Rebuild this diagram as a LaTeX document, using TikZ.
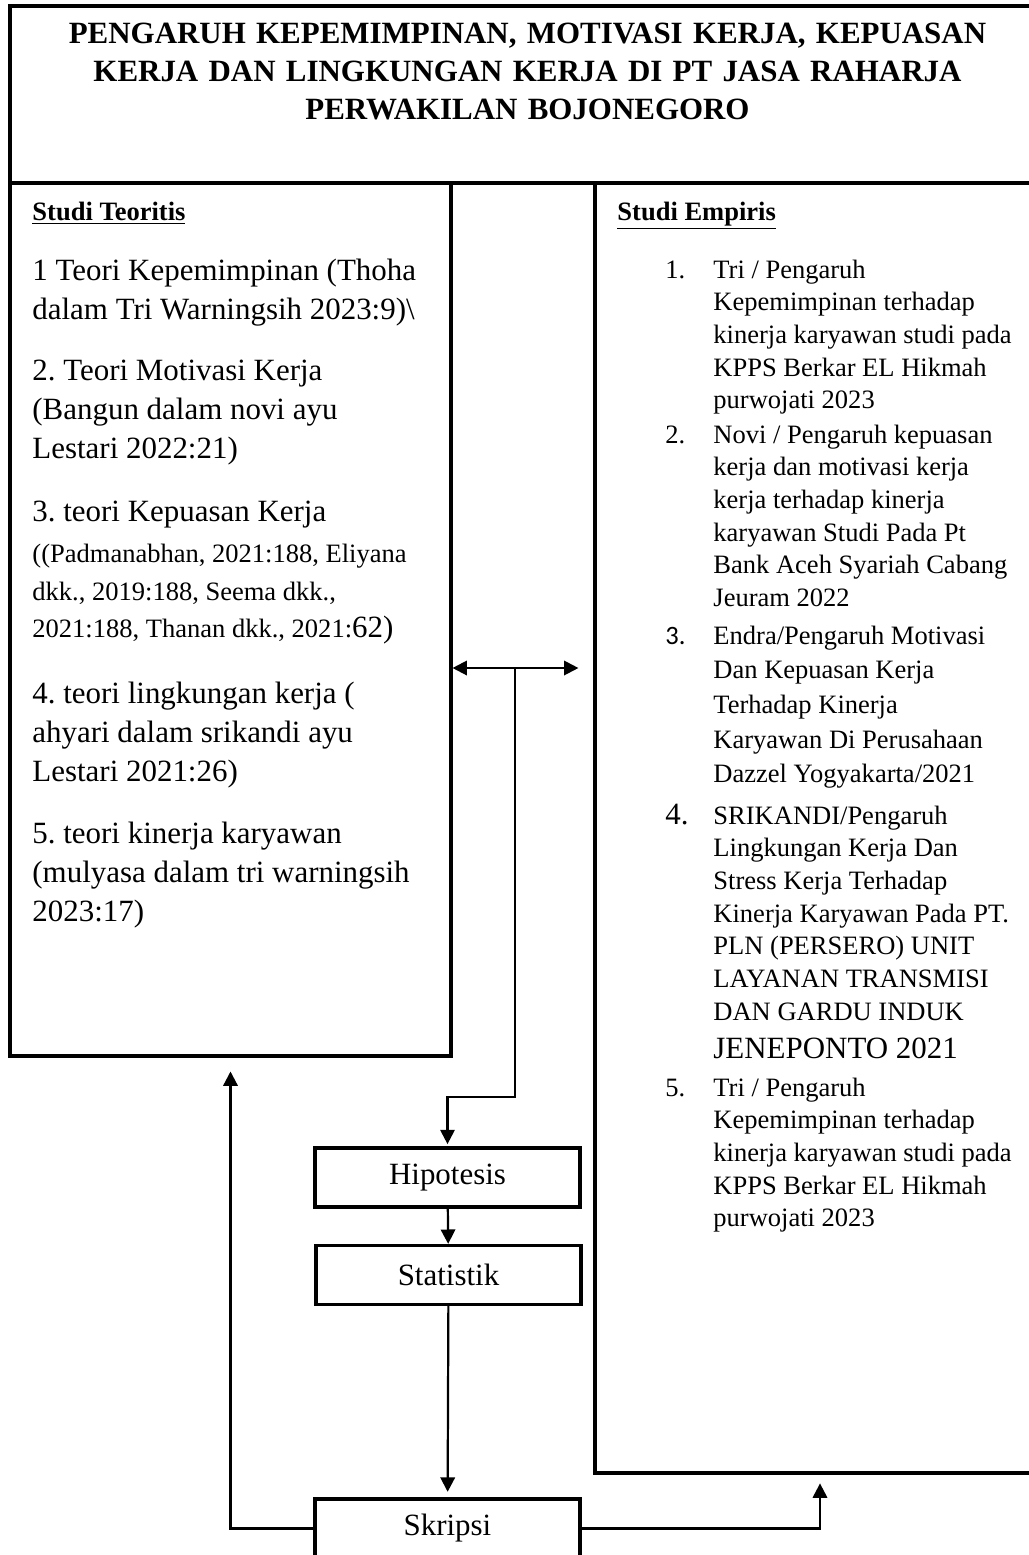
\documentclass[tikz,border=0pt]{standalone}
\usepackage{fontspec}
\setmainfont{Liberation Serif}
\newfontfamily\numfont{Carlito}
\usetikzlibrary{arrows.meta,positioning,fit}
\frenchspacing
\tikzset{
  panel/.style={draw=black,line width=1.4pt,inner sep=0pt},
  stage/.style={draw=black,line width=1.5pt,minimum width=119.9pt,minimum height=26.7pt,
                inner sep=0pt,font=\fontsize{14}{17}\selectfont},
  title/.style={text width=460pt,align=center,inner sep=0pt,anchor=base,
                font=\bfseries\fontsize{14}{17.4}\selectfont},
  heading/.style={inner sep=0pt,anchor=base west,font=\bfseries\fontsize{12}{14}\selectfont},
  theory/.style={text width=190pt,align=flush left,inner sep=0pt,anchor=base west,
                 font=\fontsize{14}{17.65}\selectfont},
  study/.style={text width=150pt,align=flush left,inner sep=0pt,anchor=base west,
                font=\fontsize{12}{14.8}\selectfont},
  num/.style={inner sep=0pt,anchor=base west,font=\fontsize{12}{14.8}\selectfont},
  arrow/.style={->,line width=1pt,draw=black}
}

\begin{document}
\begin{tikzpicture}[x=0.4525pt,y=-0.4525pt,>={Triangle[length=6.5pt,width=6.5pt]}]
\useasboundingbox (0,0) rectangle (1029,1555);
\clip (0,0) rectangle (1029,1555);
% kotak utama
\node[panel,fit={(10,6) (1045,183)}] (titlebox) {};
\node[panel,fit={(10,183) (451,1056)}] (teori) {};
\node[panel,fit={(595,183) (1045,1473)}] (empiris) {};
\node[title] (judul) at (527.5,43) {PENGARUH KEPEMIMPINAN, MOTIVASI KERJA, KEPUASAN\\
  KERJA DAN LINGKUNGAN KERJA DI PT JASA RAHARJA\\ PERWAKILAN BOJONEGORO};
% studi teoritis
\node[heading] (teorihead) at (32,220) {\underline{Studi Teoritis}};
\node[theory] (t1) at (32,280) {1 Teori Kepemimpinan (Thoha\\ dalam Tri Warningsih 2023:9)\textbackslash};
\node[theory] (t2) at (32,380) {2. Teori Motivasi Kerja\\ (Bangun dalam novi ayu\\ Lestari 2022:21)};
\node[theory,font=\fontsize{14}{16.9}\selectfont] (t3) at (32,521) {3. teori Kepuasan Kerja\\[2.1pt]
  {\fontsize{12}{16.9}\selectfont ((Padmanabhan, 2021:188, Eliyana\\ dkk., 2019:188, Seema dkk.,\\
  2021:188, Thanan dkk., 2021:}62)};
\node[theory] (t4) at (32,703) {4. teori lingkungan kerja (\\ ahyari dalam srikandi ayu\\ Lestari 2021:26)};
\node[theory] (t5) at (32,843) {5. teori kinerja karyawan\\ (mulyasa dalam tri warningsih\\ 2023:17)};
% studi empiris
\node[heading] (empirishead) at (617,220) {\underline{Studi Empiris}};
\node[num] (n1) at (665,278) {1.};
\node[study] (e1) at (713,278) {Tri / Pengaruh\\ Kepemimpinan terhadap\\ kinerja karyawan studi pada\\
  KPPS Berkar EL Hikmah\\ purwojati 2023};
\node[num] (n2) at (665,443) {2.};
\node[study] (e2) at (713,443) {Novi / Pengaruh kepuasan\\ kerja dan motivasi kerja\\ kerja terhadap kinerja\\
  karyawan Studi Pada Pt\\ Bank Aceh Syariah Cabang\\ Jeuram 2022};
\node[num,font=\numfont\fontsize{12}{14.8}\selectfont] (n3) at (665,644) {3.};
\node[study,font=\fontsize{12}{15.7}\selectfont] (e3) at (713,644) {Endra/Pengaruh Motivasi\\ Dan Kepuasan Kerja\\
  Terhadap Kinerja\\ Karyawan Di Perusahaan\\ Dazzel Yogyakarta/2021};
\node[num,font=\fontsize{14}{16}\selectfont] (n4) at (665,824) {4.};
\node[study] (e4) at (713,824) {SRIKANDI/Pengaruh\\ Lingkungan Kerja Dan\\ Stress Kerja Terhadap\\
  Kinerja Karyawan Pada PT.\\ PLN (PERSERO) UNIT\\ LAYANAN TRANSMISI\\ DAN GARDU INDUK\\[2.3pt]
  {\fontsize{14}{16}\selectfont JENEPONTO 2021}};
\node[num] (n5) at (665,1096) {5.};
\node[study] (e5) at (713,1096) {Tri / Pengaruh\\ Kepemimpinan terhadap\\ kinerja karyawan studi pada\\
  KPPS Berkar EL Hikmah\\ purwojati 2023};
% alur
\node[stage] (hipotesis) at (447.5,1177.5) {Hipotesis};
\node[stage] (statistik) at (448.5,1275) {Statistik};
\node[stage] (skripsi) at (447.5,1528.5) {Skripsi};
\coordinate (pusat) at (515,668);
\coordinate (belok) at (515,1097);
\draw[arrow,<->,shorten >=6.8pt] (teori.east |- pusat) -- (empiris.west |- pusat);
\draw[arrow,shorten >=1pt] (pusat) -- (belok) -| (hipotesis.north);
\draw[arrow] (hipotesis) -- (statistik);
\draw[arrow,shorten >=2.5pt] (statistik) -- (skripsi);
\draw[arrow,shorten >=6.3pt] (skripsi.west) -| (teori.south);
\draw[arrow,shorten >=4pt] (skripsi.east) -| (empiris.south);
\end{tikzpicture}
\end{document}
